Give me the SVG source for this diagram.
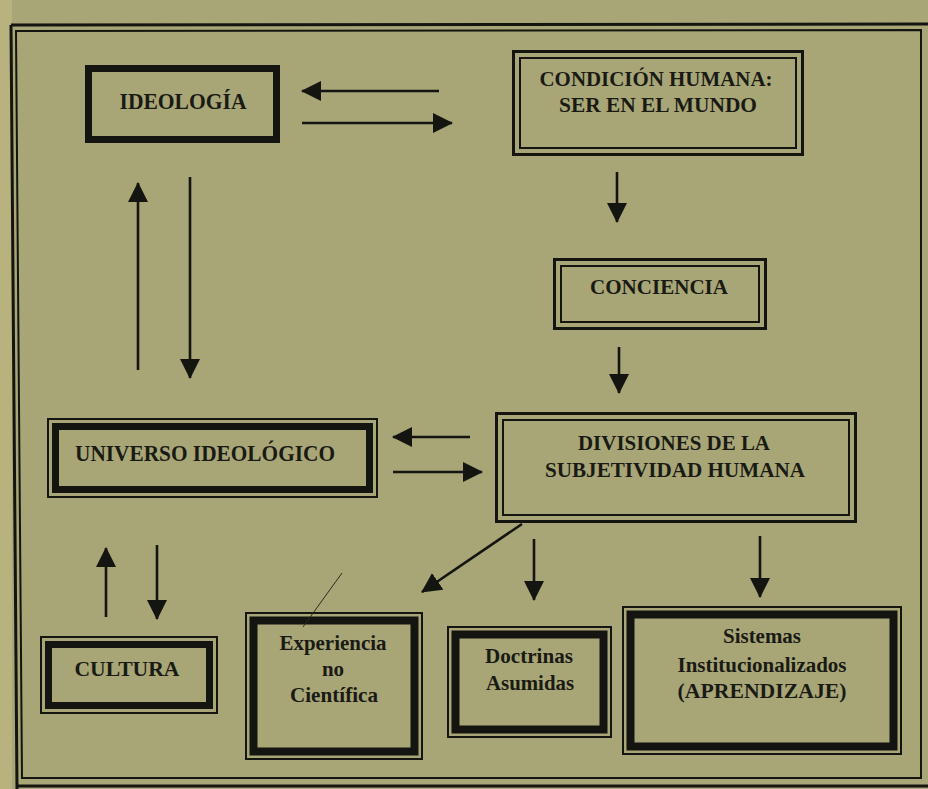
<svg xmlns="http://www.w3.org/2000/svg" width="928" height="789" viewBox="0 0 928 789">
<style>
.t{font-family:"Liberation Serif","Times New Roman",serif;font-weight:bold;fill:#1a1a14;text-anchor:middle}
.ln{stroke:#141410;fill:none}
.ar{stroke:#141410;stroke-width:2.6;fill:none;marker-end:url(#ah)}
</style>
<defs>
<marker id="ah" viewBox="0 0 20 20" refX="19" refY="10" markerWidth="20" markerHeight="20" markerUnits="userSpaceOnUse" orient="auto">
<path d="M0,0 L20,10 L0,20 z" fill="#141410"/>
</marker>
</defs>
<rect width="928" height="789" fill="#a8a677"/>
<rect x="0" y="0" width="12" height="789" fill="#b8b27e"/>
<g id="frame" class="ln">
<path d="M11,25 L928,24 M11,25 L17,789" stroke-width="3"/>
<path d="M16,31 L921,30 L921,778 L22,778 Z" stroke-width="2"/>
<path d="M17,786 L928,786" stroke-width="3"/>
</g>
<g id="ideologia">
<rect x="88.5" y="68.5" width="188" height="71" class="ln" stroke-width="7"/>
<text x="183" y="109" class="t" font-size="24" textLength="127" lengthAdjust="spacingAndGlyphs">IDEOLOGÍA</text>
</g>
<g id="condicion">
<rect x="513.5" y="51.5" width="289" height="103" class="ln" stroke-width="3"/>
<rect x="520" y="58" width="276" height="90" class="ln" stroke-width="2"/>
<text x="656" y="86" class="t" font-size="22" textLength="233" lengthAdjust="spacingAndGlyphs">CONDICIÓN HUMANA:</text>
<text x="658" y="112" class="t" font-size="22" textLength="198" lengthAdjust="spacingAndGlyphs">SER EN EL MUNDO</text>
</g>
<g id="conciencia">
<rect x="554.5" y="259.5" width="211" height="69" class="ln" stroke-width="3"/>
<rect x="561" y="266" width="198" height="56" class="ln" stroke-width="2"/>
<text x="659" y="294" class="t" font-size="22" textLength="138" lengthAdjust="spacingAndGlyphs">CONCIENCIA</text>
</g>
<g id="divisiones">
<rect x="496.5" y="413.5" width="359" height="108" class="ln" stroke-width="3"/>
<rect x="503" y="420" width="346" height="95" class="ln" stroke-width="2"/>
<text x="674" y="450" class="t" font-size="21" textLength="192" lengthAdjust="spacingAndGlyphs">DIVISIONES DE LA</text>
<text x="675" y="477" class="t" font-size="21" textLength="260" lengthAdjust="spacingAndGlyphs">SUBJETIVIDAD HUMANA</text>
</g>
<g id="universo">
<rect x="48" y="419" width="329" height="78" class="ln" stroke-width="2"/>
<rect x="55.5" y="426.5" width="314" height="63" class="ln" stroke-width="7"/>
<text x="205" y="461" class="t" font-size="24" textLength="260" lengthAdjust="spacingAndGlyphs">UNIVERSO IDEOLÓGICO</text>
</g>
<g id="cultura">
<rect x="41" y="637" width="176" height="76" class="ln" stroke-width="2"/>
<rect x="48.5" y="644.5" width="161" height="61" class="ln" stroke-width="7"/>
<text x="127" y="676" class="t" font-size="22" textLength="105" lengthAdjust="spacingAndGlyphs">CULTURA</text>
</g>
<g id="experiencia">
<rect x="246" y="613" width="176" height="146" class="ln" stroke-width="2"/>
<rect x="253.5" y="620.5" width="161" height="131" class="ln" stroke-width="8"/>
<text x="333" y="650" class="t" font-size="21" textLength="107" lengthAdjust="spacingAndGlyphs">Experiencia</text>
<text x="333" y="676" class="t" font-size="21">no</text>
<text x="334" y="702" class="t" font-size="21" textLength="88" lengthAdjust="spacingAndGlyphs">Científica</text>
</g>
<g id="doctrinas">
<rect x="448" y="627" width="163" height="110" class="ln" stroke-width="2"/>
<rect x="455.5" y="634.5" width="148" height="95" class="ln" stroke-width="8"/>
<text x="529" y="663" class="t" font-size="21" textLength="88" lengthAdjust="spacingAndGlyphs">Doctrinas</text>
<text x="530" y="690" class="t" font-size="21" textLength="88" lengthAdjust="spacingAndGlyphs">Asumidas</text>
</g>
<g id="sistemas">
<rect x="623" y="607" width="278" height="147" class="ln" stroke-width="2"/>
<rect x="630.5" y="614.5" width="263" height="132" class="ln" stroke-width="8"/>
<text x="762" y="643" class="t" font-size="21" textLength="78" lengthAdjust="spacingAndGlyphs">Sistemas</text>
<text x="762" y="672" class="t" font-size="21" textLength="169" lengthAdjust="spacingAndGlyphs">Institucionalizados</text>
<text x="762" y="698" class="t" font-size="21" textLength="169" lengthAdjust="spacingAndGlyphs">(APRENDIZAJE)</text>
</g>
<g id="connectors">
<line x1="439" y1="91" x2="302" y2="91" class="ar"/>
<line x1="302" y1="123" x2="452" y2="123" class="ar"/>
<line x1="617" y1="172" x2="617" y2="222" class="ar"/>
<line x1="619" y1="347" x2="619" y2="393" class="ar"/>
<line x1="470" y1="437" x2="393" y2="437" class="ar"/>
<line x1="393" y1="472" x2="482" y2="472" class="ar"/>
<line x1="138" y1="370" x2="138" y2="183" class="ar"/>
<line x1="190" y1="177" x2="190" y2="378" class="ar"/>
<line x1="106" y1="617" x2="106" y2="548" class="ar"/>
<line x1="157" y1="545" x2="157" y2="619" class="ar"/>
<line x1="522" y1="524" x2="422" y2="592" class="ar"/>
<line x1="534" y1="539" x2="534" y2="600" class="ar"/>
<line x1="760" y1="536" x2="760" y2="597" class="ar"/>
<line x1="342" y1="573" x2="303" y2="627" stroke="#2a2a20" stroke-width="1"/>
</g>
</svg>
